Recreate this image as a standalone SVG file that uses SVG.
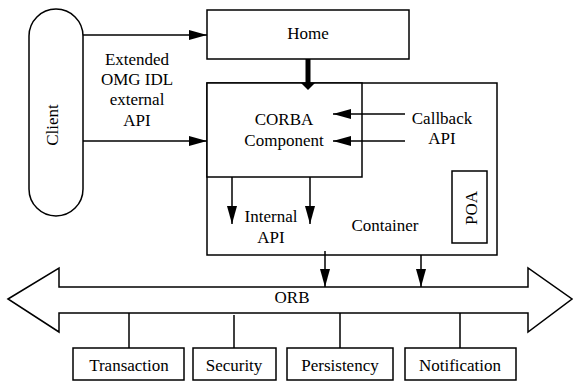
<svg xmlns="http://www.w3.org/2000/svg" width="573" height="381" viewBox="0 0 573 381" font-family="'Liberation Serif', 'Times New Roman', 'DejaVu Serif', serif">
<style>
.s{fill:#fff;stroke:#000;stroke-width:1.5}
.l{fill:none;stroke:#000;stroke-width:1.5}
.t{font-family:'Liberation Serif','Times New Roman','DejaVu Serif',serif;font-size:17px;fill:#000;text-anchor:middle}
</style>
<defs>
<marker id="ah" viewBox="0 0 18 10" refX="18" refY="5" markerWidth="18" markerHeight="10" markerUnits="userSpaceOnUse" orient="auto"><path d="M0,0 L18,5 L0,10 Z" fill="#000"/></marker>
</defs>
<rect width="573" height="381" fill="#fff"/>
<g id="container">
<rect class="s" x="207" y="83" width="290" height="172"/>
<text class="t" x="385" y="231">Container</text>
</g>
<g id="component">
<rect class="s" x="207" y="83" width="155" height="94"/>
<text class="t" x="284" y="125">CORBA</text>
<text class="t" x="284" y="146">Component</text>
</g>
<g id="poa">
<rect class="s" x="452" y="171" width="35" height="72"/>
<text class="t" transform="translate(477,208) rotate(-90)">POA</text>
</g>
<g id="home">
<rect class="s" x="207" y="10" width="202" height="49"/>
<text class="t" x="308" y="39">Home</text>
</g>
<g id="client">
<rect class="s" x="29" y="9" width="54" height="207" rx="27" ry="27"/>
<text class="t" transform="translate(58,125) rotate(-90)">Client</text>
</g>
<g id="orb">
<path class="s" d="M8,299 L59,268 L59,287 L528,287 L528,268 L572,299 L528,332 L528,313 L59,313 L59,332 Z"/>
<text class="t" x="292" y="303">ORB</text>
</g>
<g id="transaction">
<rect class="s" x="73" y="348" width="111" height="32"/>
<text class="t" x="129" y="371">Transaction</text>
</g>
<g id="security">
<rect class="s" x="193" y="348" width="83" height="32"/>
<text class="t" x="234" y="371">Security</text>
</g>
<g id="persistency">
<rect class="s" x="287" y="348" width="106" height="32"/>
<text class="t" x="340" y="371">Persistency</text>
</g>
<g id="notification">
<rect class="s" x="405" y="348" width="111" height="32"/>
<text class="t" x="460" y="371">Notification</text>
</g>
<g id="labels">
<text class="t" x="137" y="65">Extended</text>
<text class="t" x="137" y="85">OMG IDL</text>
<text class="t" x="137" y="105">external</text>
<text class="t" x="137" y="126">API</text>
<text class="t" x="442" y="124">Callback</text>
<text class="t" x="442" y="144">API</text>
<text class="t" x="271" y="222">Internal</text>
<text class="t" x="271" y="243">API</text>
</g>
<g id="connectors">
<line class="l" x1="83" y1="35" x2="207" y2="35" marker-end="url(#ah)"/>
<line class="l" x1="83" y1="141" x2="207" y2="141" marker-end="url(#ah)"/>
<line x1="308" y1="59" x2="308" y2="84" stroke="#000" stroke-width="5"/>
<path d="M301,83 L315,83 L308,90 Z" fill="#000"/>
<line class="l" x1="405" y1="114" x2="333" y2="114" marker-end="url(#ah)"/>
<line class="l" x1="405" y1="141" x2="333" y2="141" marker-end="url(#ah)"/>
<line class="l" x1="232" y1="177" x2="232" y2="224" marker-end="url(#ah)"/>
<line class="l" x1="310" y1="177" x2="310" y2="224" marker-end="url(#ah)"/>
<line class="l" x1="325" y1="251" x2="325" y2="287" marker-end="url(#ah)"/>
<line class="l" x1="421" y1="255" x2="421" y2="287" marker-end="url(#ah)"/>
<line class="l" x1="129" y1="313" x2="129" y2="348"/>
<line class="l" x1="234" y1="315" x2="234" y2="348"/>
<line class="l" x1="340" y1="313" x2="340" y2="348"/>
<line class="l" x1="460" y1="313" x2="460" y2="348"/>
</g>
</svg>
